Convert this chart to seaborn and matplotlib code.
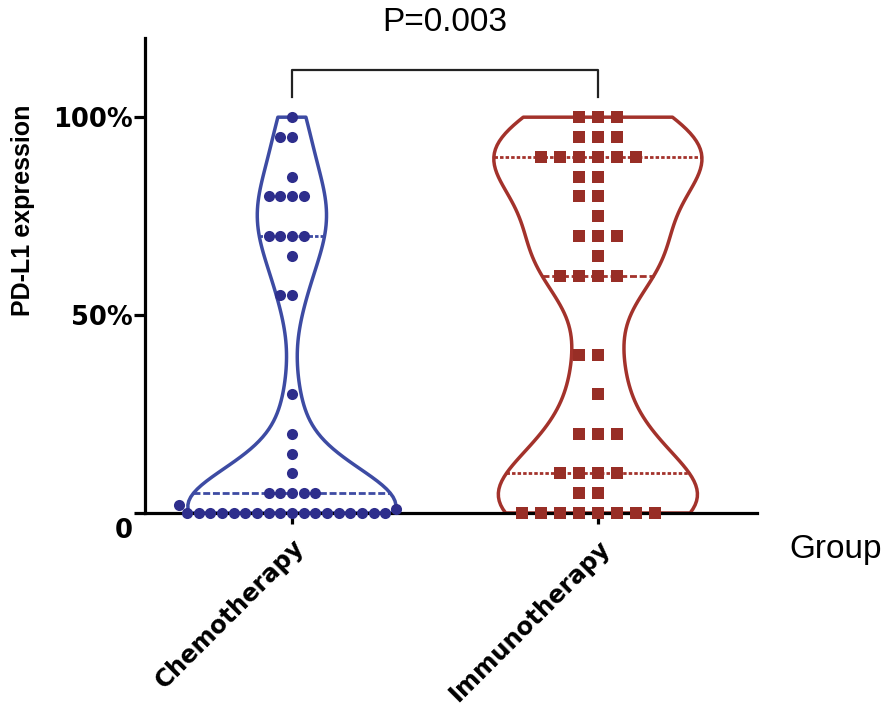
import matplotlib
matplotlib.use("Agg")
import matplotlib.pyplot as plt
import seaborn as sns
import pandas as pd
from matplotlib.markers import MarkerStyle
from matplotlib.transforms import Affine2D, ScaledTranslation

# PD-L1 expression (%)
chemo = [100, 95, 95, 85, 80, 80, 80, 80, 70, 70, 70, 70, 65, 55, 55,
         30, 20, 15, 10, 5, 5, 5, 5, 5,
         0, 0, 0, 0, 0, 0, 0, 0, 0, 0, 0, 0, 0, 0, 0, 0, 0, 0, 1, 2]
immuno = [100, 100, 100, 95, 95, 95, 90, 90, 90, 90, 90, 90, 85, 85, 80, 80,
          75, 70, 70, 70, 65, 60, 60, 60, 60,
          40, 40, 30, 20, 20, 20, 10, 10, 10, 10, 5, 5,
          0, 0, 0, 0, 0, 0, 0, 0]
groups = ["Chemotherapy", "Immunotherapy"]
colors = ["#3d4ba3", "#a3322b"]
dot_colors = ["#2e2e8c", "#982e26"]

df = pd.DataFrame({
    "group": [groups[0]] * len(chemo) + [groups[1]] * len(immuno),
    "value": chemo + immuno,
})

fig = plt.figure(figsize=(8.93, 7.04), dpi=100)
ax = fig.add_axes([0.1624, 0.2713, 0.6853, 0.6747])

sns.swarmplot(data=df[df.group == groups[0]], x="group", y="value", order=groups,
              color=dot_colors[0], marker="o", size=8, ax=ax, clip_on=False)
sq = MarkerStyle("s", transform=Affine2D().scale(0.66))
sns.swarmplot(data=df[df.group == groups[1]], x="group", y="value", order=groups,
              color=dot_colors[1], marker=sq, size=13, ax=ax, clip_on=False)

sns.violinplot(data=df, x="group", y="value", order=groups, hue="group",
               palette=colors, fill=False, inner="quart", cut=0, bw_adjust=0.55,
               density_norm="width", width=0.68, linewidth=2.5, legend=False,
               inner_kws=dict(linewidth=2), ax=ax)

ax.set_xlim(-0.48, 1.52)
ax.set_ylim(0, 120)
sns.despine(ax=ax)
for s in ["left", "bottom"]:
    ax.spines[s].set_linewidth(2.3)
ax.tick_params(axis="both", length=8, width=2.3, color="black")
ax.tick_params(axis="y", pad=1)
ax.tick_params(axis="x", pad=8)

ax.set_yticks([0, 50, 100])
ax.set_yticklabels(["0", "50%", "100%"], fontsize=18.5, fontweight="bold")
lab0 = ax.get_yticklabels()[0]
lab0.set_transform(lab0.get_transform() + ScaledTranslation(0, -11 / 72, fig.dpi_scale_trans))
ax.set_xticks([0, 1])
ax.set_xticklabels(groups, fontsize=17.5, fontweight="bold", rotation=45,
                   ha="right", rotation_mode="anchor")

ax.set_ylabel("PD-L1 expression", fontsize=18, fontweight="bold", family="Liberation Sans")
ax.yaxis.set_label_coords(-0.18, 0.638)
ax.set_xlabel("Group", fontsize=24, family="Liberation Sans")
ax.xaxis.set_label_coords(1.128, -0.045)

# significance bracket
ax.plot([0, 0, 1, 1], [105, 112, 112, 105], color="#222222", lw=1.6, clip_on=False)
ax.text(0.5, 124, "P=0.003", ha="center", va="center", fontsize=24,
        family="Liberation Sans", clip_on=False)

fig.savefig("out.png", dpi=100)
